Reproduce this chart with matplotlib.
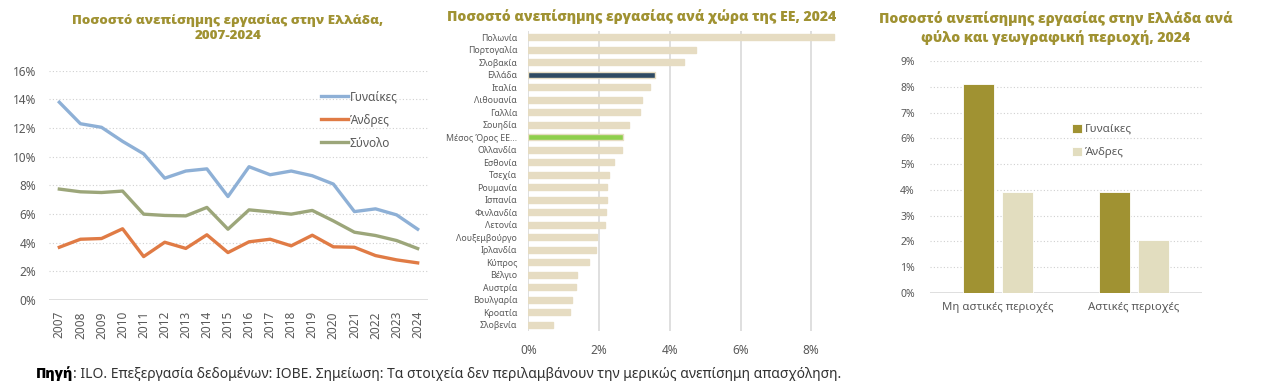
import matplotlib.pyplot as plt
import numpy as np

plt.rcParams['font.family'] = ['Noto Sans', 'DejaVu Sans']

# --- δεδομένα ---
years = [str(y) for y in range(2007, 2025)]
gynaikes = [13.8, 12.3, 12.05, 11.07, 10.2, 8.5, 9.0, 9.15, 7.22, 9.3, 8.74, 9.0, 8.67, 8.09, 6.17, 6.36, 5.94, 4.94]
andres = [3.68, 4.24, 4.29, 4.97, 3.03, 4.03, 3.6, 4.55, 3.31, 4.06, 4.24, 3.78, 4.52, 3.71, 3.68, 3.1, 2.8, 2.59]
synolo = [7.74, 7.55, 7.5, 7.6, 5.99, 5.9, 5.87, 6.46, 4.94, 6.29, 6.15, 5.99, 6.25, 5.52, 4.73, 4.5, 4.15, 3.59]

xores = ['Πολωνία', 'Πορτογαλία', 'Σλοβακία', 'Ελλάδα', 'Ιταλία', 'Λιθουανία', 'Γαλλία',
         'Σουηδία', 'Μέσος Όρος ΕΕ...', 'Ολλανδία', 'Εσθονία', 'Τσεχία', 'Ρουμανία',
         'Ισπανία', 'Φινλανδία', 'Λετονία', 'Λουξεμβούργο', 'Ιρλανδία', 'Κύπρος',
         'Βέλγιο', 'Αυστρία', 'Βουλγαρία', 'Κροατία', 'Σλοβενία']
xores_timi = [8.63, 4.75, 4.39, 3.58, 3.44, 3.21, 3.17, 2.85, 2.67, 2.65, 2.43, 2.29, 2.23,
              2.22, 2.21, 2.18, 1.95, 1.92, 1.71, 1.39, 1.35, 1.23, 1.19, 0.71]

perioxes = ['Μη αστικές περιοχές', 'Αστικές περιοχές']
per_gynaikes = [8.1, 3.93]
per_andres = [3.93, 2.05]

W, H = 1278, 381
titlos_xroma = '#A09232'
gkri = '#595959'
titlos_font = dict(family=['Open Sans', 'DejaVu Sans'], fontweight='heavy',
                   color=titlos_xroma)

def rect(x0, x1, ytop, ybot):
    return [x0 / W, (H - ybot) / H, (x1 - x0) / W, (ybot - ytop) / H]

fig = plt.figure(figsize=(W / 100, H / 100), dpi=100)

# ---------- γράφημα 1 ----------
ax1 = fig.add_axes(rect(48.8, 428.2, 70.7, 300))
x = np.arange(len(years))
ax1.plot(x, gynaikes, color='#8EB0D6', lw=2.4, label='Γυναίκες')
ax1.plot(x, andres, color='#E07B45', lw=2.4, label='Άνδρες')
ax1.plot(x, synolo, color='#9CA67A', lw=2.4, label='Σύνολο')
ax1.set_xlim(-0.5, len(years) - 0.5)
ax1.set_ylim(0, 16)
ax1.set_yticks(range(0, 17, 2))
ax1.set_yticklabels([f'{v}%' for v in range(0, 17, 2)])
ax1.set_xticks(x)
ax1.set_xticklabels(years, rotation=90)
for v in range(2, 17, 2):
    ax1.axhline(v, color='#D0D0D0', lw=0.8, ls=(0, (1, 2)), zorder=0)
ax1.axhline(0, color='#D9D9D9', lw=1.2, zorder=0)
for s in ax1.spines.values():
    s.set_visible(False)
ax1.tick_params(length=0, colors=gkri, labelsize=8.5)
ax1.tick_params(axis='y', pad=9)
ax1.tick_params(axis='x', pad=8)
ax1.legend(loc='upper left', bbox_to_anchor=(0.69, 0.96), frameon=False,
           fontsize=8.5, handlelength=2.3, handletextpad=0.1, labelspacing=0.85,
           labelcolor=gkri)
fig.text(228 / W, 1 - 28 / H, 'Ποσοστό ανεπίσημης εργασίας στην Ελλάδα,\n2007-2024',
         ha='center', va='center', linespacing=1.35, fontsize=9.6, **titlos_font)

# ---------- γράφημα 2 ----------
ax2 = fig.add_axes(rect(528.3, 836, 31, 331))
y = np.arange(len(xores))
xromata = []
for c in xores:
    if c == 'Ελλάδα':
        xromata.append('#2F4A62')
    elif c.startswith('Μέσος'):
        xromata.append('#8ECF4C')
    else:
        xromata.append('#E6DCC2')
ax2.barh(y, xores_timi, height=0.5, color=xromata, edgecolor='#E6DCC2', lw=1.0, zorder=3)
ax2.set_ylim(len(xores) - 0.5, -0.5)
ax2.set_xlim(0, 8.7)
ax2.set_yticks(y)
ax2.set_yticklabels(xores)
ax2.set_xticks(range(0, 9, 2))
ax2.set_xticklabels([f'{v}%' for v in range(0, 9, 2)])
for v in range(0, 9, 2):
    ax2.axvline(v, color='#DCDCDC', lw=1.3, zorder=0)
for s in ax2.spines.values():
    s.set_visible(False)
ax2.tick_params(length=0, colors=gkri)
ax2.tick_params(axis='y', labelsize=6.3, pad=8)
ax2.tick_params(axis='x', labelsize=8.5, pad=9)
fig.text(642 / W, 1 - 17 / H, 'Ποσοστό ανεπίσημης εργασίας ανά χώρα της ΕΕ, 2024',
         ha='center', va='center', fontsize=10.1, **titlos_font)

# ---------- γράφημα 3 ----------
ax3 = fig.add_axes(rect(930, 1202, 61.3, 292.7))
xp = np.arange(len(perioxes))
bw = 0.225
ax3.bar(xp - 0.145, per_gynaikes, width=bw, color='#A09232', label='Γυναίκες', zorder=3,
        edgecolor='white', lw=0.6)
ax3.bar(xp + 0.145, per_andres, width=bw, color='#E2DDBF', label='Άνδρες', zorder=3,
        edgecolor='white', lw=0.6)
ax3.set_xlim(-0.5, 1.5)
ax3.set_ylim(0, 9)
ax3.set_yticks(range(0, 10))
ax3.set_yticklabels([f'{v}%' for v in range(0, 10)])
ax3.set_xticks(xp)
ax3.set_xticklabels(perioxes)
for v in range(1, 10):
    ax3.axhline(v, color='#D0D0D0', lw=0.8, ls=(0, (1, 2)), zorder=0)
ax3.axhline(0, color='#D9D9D9', lw=1.2, zorder=0)
for s in ax3.spines.values():
    s.set_visible(False)
ax3.tick_params(length=0, colors=gkri)
ax3.tick_params(axis='y', labelsize=7.5, pad=11)
ax3.tick_params(axis='x', labelsize=8.2, pad=7)
ax3.legend(loc='upper left', bbox_to_anchor=(0.485, 0.775), frameon=False, fontsize=8.3,
           handlelength=0.8, handleheight=0.8, handletextpad=0.3, labelspacing=1.0,
           labelcolor=gkri)
fig.text(1056 / W, 1 - 28 / H, 'Ποσοστό ανεπίσημης εργασίας στην Ελλάδα ανά\nφύλο και γεωγραφική περιοχή, 2024',
         ha='center', va='center', linespacing=1.35, fontsize=10.1, **titlos_font)

# ---------- πηγή ----------
t = fig.text(36 / W, 1 - 374 / H, 'Πηγή', ha='left', va='center', fontsize=10,
             family=['Open Sans', 'DejaVu Sans'], fontweight='heavy', color='black')
fig.canvas.draw()
bb = t.get_window_extent()
fig.text(bb.x1 / W, 1 - 374 / H,
         ': ILO. Επεξεργασία δεδομένων: ΙΟΒΕ. Σημείωση: Τα στοιχεία δεν περιλαμβάνουν την μερικώς ανεπίσημη απασχόληση.',
         ha='left', va='center', fontsize=10, color='#333333')

fig.savefig('out.png', dpi=100)
